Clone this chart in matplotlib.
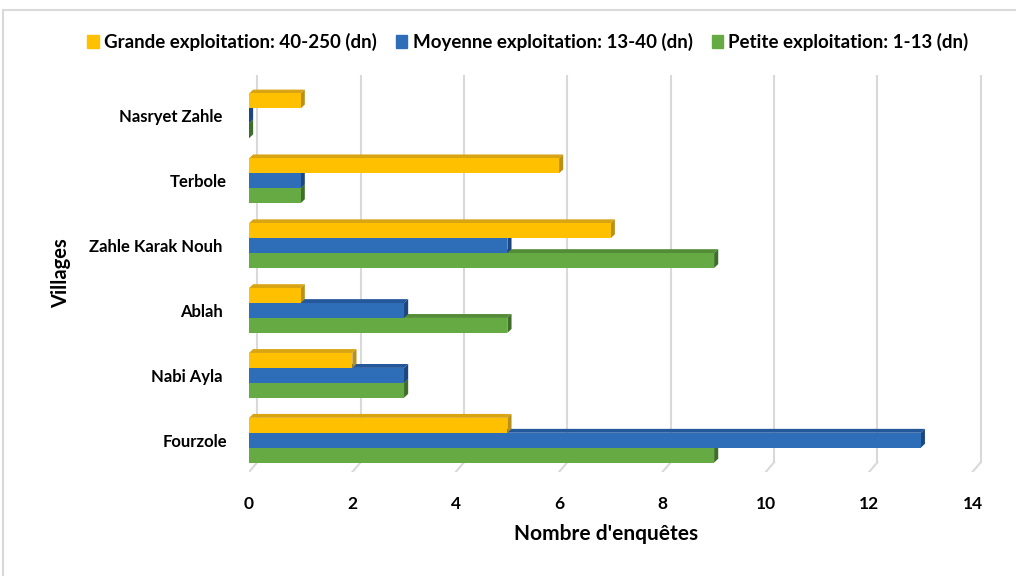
import matplotlib
matplotlib.use("Agg")
import matplotlib.pyplot as plt
from matplotlib.patches import Polygon, Rectangle

# données
villages = ["Fourzole", "Nabi Ayla ", "Ablah ", "Zahle Karak Nouh ", "Terbole", "Nasryet Zahle "]
grande = [5, 2, 1, 7, 6, 1]
moyenne = [13, 3, 3, 5, 1, 0]
petite = [9, 3, 5, 9, 1, 0]
series_labels = ["Grande exploitation: 40-250 (dn)", "Moyenne exploitation: 13-40 (dn)",
                 "Petite exploitation: 1-13 (dn)"]
x_ticks = [0, 2, 4, 6, 8, 10, 12, 14]

# couleurs: face avant, dessus, bout
colors = {
    "grande": ("#FFC000", "#D9A412", "#B8901A"),
    "moyenne": ("#2E6DB8", "#24589A", "#1D4680"),
    "petite": ("#66AA44", "#538C37", "#3F6E2A"),
}

plt.rcParams['font.family'] = ['Lato', 'DejaVu Sans']
plt.rcParams['font.weight'] = 'bold'

W, H = 1016, 576
fig = plt.figure(figsize=(W / 100, H / 100), dpi=100)
ax = fig.add_axes([249 / W, 1 - 472 / H, (988 - 249) / W, (472 - 75) / H])

xmax = 14.3
ax.set_xlim(0, xmax)
ax.set_ylim(-0.49, 5.63)

h = 0.23
dx, dy = 0.08, 0.06       # profondeur des barres
gdx = 0.16                # décalage du mur du fond

# grille en perspective
y_back = -0.49 + 0.15
for t in x_ticks:
    ax.plot([t + gdx, t + gdx], [y_back, 5.63], color="#D9D9D9", lw=1.5, zorder=0)
    ax.plot([t, t + gdx], [-0.49, y_back], color="#D9D9D9", lw=1.5, zorder=0)


def bar3d(y, v, cols, z):
    front, top, end = cols
    y0, y1 = y - h / 2, y + h / 2
    ax.add_patch(Polygon([(0, y1), (v, y1), (v + dx, y1 + dy), (dx, y1 + dy)],
                         closed=True, facecolor=top, edgecolor="none", zorder=z))
    ax.add_patch(Polygon([(v, y0), (v, y1), (v + dx, y1 + dy), (v + dx, y0 + dy)],
                         closed=True, facecolor=end, edgecolor="none", zorder=z))
    ax.barh(y, v, height=h, color=front, zorder=z + 0.5)


for i in range(len(villages)):
    bar3d(i - h, petite[i], colors["petite"], 2)
    bar3d(i, moyenne[i], colors["moyenne"], 3)
    bar3d(i + h, grande[i], colors["grande"], 4)

ax.set_yticks(range(len(villages)))
ax.set_yticklabels(villages, fontsize=12, fontweight='bold')
ax.set_xticks(x_ticks)
ax.set_xticklabels([str(t) for t in x_ticks], fontsize=12.5, fontweight='bold')
ax.tick_params(axis='both', length=0)
ax.tick_params(axis='y', pad=16)
ax.tick_params(axis='x', pad=17)
for s in ax.spines.values():
    s.set_visible(False)

ax.set_xlabel("Nombre d'enquêtes", fontsize=15, fontweight='bold')
ax.xaxis.set_label_coords(0.483, -0.13)
ax.set_ylabel("Villages", fontsize=14.5, fontweight='bold', labelpad=13)

handles = [Rectangle((0, 0), 1, 1, color=colors[k][0]) for k in ["grande", "moyenne", "petite"]]
fig.legend(handles, series_labels, loc='center', bbox_to_anchor=(528 / W, 1 - 42 / H), ncol=3,
           frameon=False, handlelength=0.6, handleheight=0.7,
           handletextpad=0.3, columnspacing=1.0, prop={'weight': 'bold', 'size': 13.5})

fig.patches.append(Rectangle((3 / W, -0.01), 1.0, 1 - 10 / H + 0.01, transform=fig.transFigure,
                             fill=False, edgecolor="#D9D9D9", lw=1.5))

fig.savefig("out.png", dpi=100, facecolor="white")
